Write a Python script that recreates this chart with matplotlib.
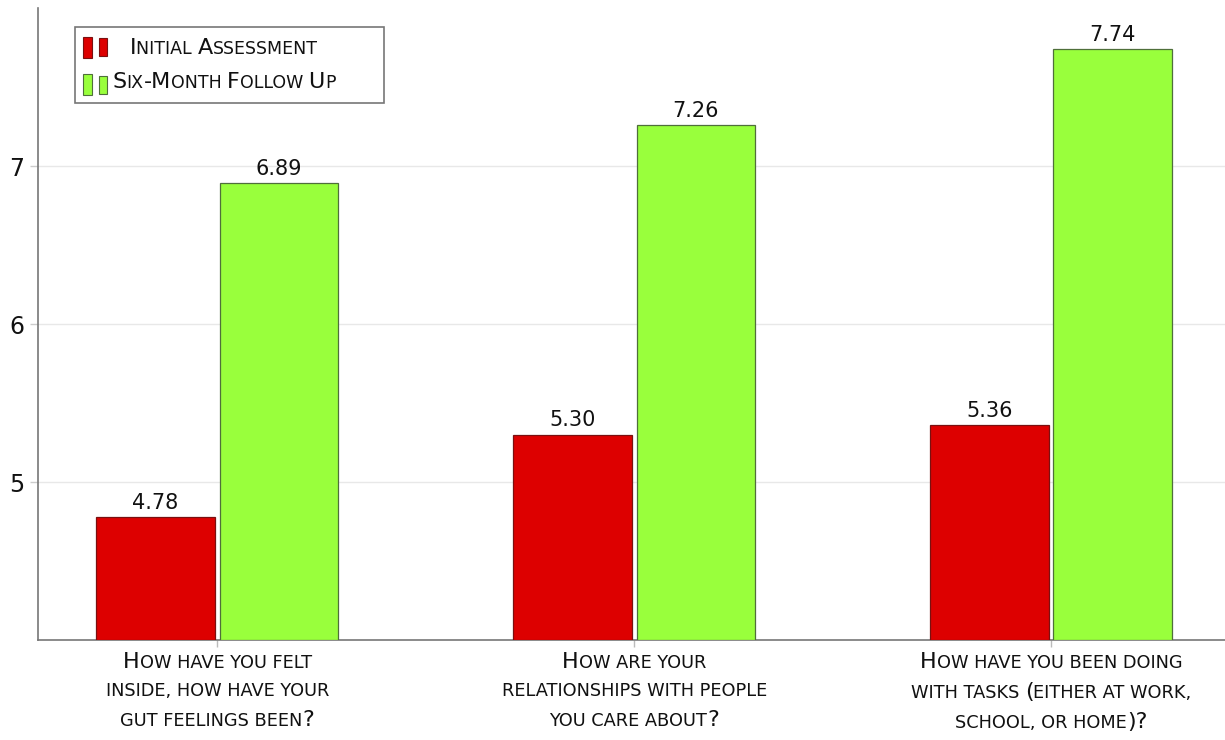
import matplotlib
matplotlib.use("Agg")
import matplotlib.pyplot as plt
from matplotlib.offsetbox import (TextArea, HPacker, VPacker, DrawingArea,
                                  AnnotationBbox, AnchoredOffsetbox)
from matplotlib.patches import Rectangle
import numpy as np

# ---- data ----
categories = [
    ["How have you felt", "inside, how have your", "gut feelings been?"],
    ["How are your", "relationships with people", "you care about?"],
    ["How have you been doing", "with tasks (either at work,", "school, or home)?"],
]
series_names = ["Initial Assessment", "Six-Month Follow Up"]
initial = [4.78, 5.30, 5.36]
follow_up = [6.89, 7.26, 7.74]
y_ticks = [5, 6, 7]

RED = "#dd0000"
RED_EDGE = "#7a1010"
GREEN = "#99ff3c"
GREEN_EDGE = "#4f6f3a"
FONT = "DejaVu Sans"

plt.rcParams["font.family"] = FONT

fig = plt.figure(figsize=(12.25, 7.4), dpi=100)
ax = fig.add_axes([38 / 1225, 1 - 640 / 740, 1 - 38 / 1225, (640 - 8) / 740])

x = np.arange(len(categories))
width = 0.285
offset = 0.148
base = 4.0

ax.bar(x - offset, np.array(initial) - base, width, bottom=base,
       color=RED, edgecolor=RED_EDGE, linewidth=0.9, zorder=3)
ax.bar(x + offset, np.array(follow_up) - base, width, bottom=base,
       color=GREEN, edgecolor=GREEN_EDGE, linewidth=0.9, zorder=3)

for xs, vals in ((x - offset, initial), (x + offset, follow_up)):
    for xi, v in zip(xs, vals):
        ax.annotate(f"{v:.2f}", (xi, v), xytext=(0, 3), textcoords="offset points",
                    ha="center", va="bottom", fontsize=15, color="#111111")

ax.set_ylim(4, 8)
ax.set_xlim(-0.43, 2.417)
ax.set_yticks(y_ticks)
ax.set_yticklabels([str(t) for t in y_ticks], fontsize=17, color="#111111")
ax.set_xticks(x)
ax.set_xticklabels([])
ax.tick_params(axis="y", length=6, width=1, color="#cccccc", pad=4)
ax.tick_params(axis="x", length=5, width=1, color="#bbbbbb")
ax.yaxis.grid(True, color="#e8e8e8", linewidth=1, zorder=0)
ax.set_axisbelow(True)
for s in ("top", "right"):
    ax.spines[s].set_visible(False)
for s in ("left", "bottom"):
    ax.spines[s].set_color("#777777")
    ax.spines[s].set_linewidth(1.2)


def small_caps(text, big, small, color="#111111"):
    """Build a small-caps line: capitals at full size, lowercase as smaller capitals."""
    runs = []
    cur, cur_small = "", None
    for ch in text:
        is_small = ch.islower() or ch in " ,"
        if cur_small is None or is_small == cur_small:
            cur += ch
            cur_small = is_small
        else:
            runs.append((cur, cur_small))
            cur, cur_small = ch, is_small
    if cur:
        runs.append((cur, cur_small))
    boxes = [TextArea(r.upper(), textprops=dict(fontsize=small if s else big,
                                                color=color, family=FONT))
             for r, s in runs]
    return HPacker(children=boxes, align="baseline", pad=0, sep=0)


for xi, lines in zip(x, categories):
    block = VPacker(children=[small_caps(l, 16, 12.8) for l in lines],
                    align="center", pad=0, sep=7)
    ab = AnnotationBbox(block, (xi, 0), xycoords=("data", "axes fraction"),
                        xybox=(0, -9), boxcoords="offset points",
                        box_alignment=(0.5, 1), frameon=False, pad=0,
                        annotation_clip=False)
    ax.add_artist(ab)


def handle(face, edge):
    da = DrawingArea(19, 16, 0, 0)
    da.add_artist(Rectangle((0, 0), 6, 15, facecolor=face, edgecolor=edge, linewidth=0.8))
    da.add_artist(Rectangle((11, 1), 6, 13, facecolor=face, edgecolor=edge, linewidth=0.8))
    return da


handles = VPacker(children=[handle(RED, RED_EDGE), handle(GREEN, GREEN_EDGE)],
                  align="left", pad=0, sep=11)
labels = VPacker(children=[small_caps(n, 16, 12.5) for n in series_names],
                 align="center", pad=0, sep=10)
right_gap = DrawingArea(27, 1, 0, 0)
legend_box = HPacker(children=[handles, labels, right_gap], align="center", pad=0, sep=2)
anchored = AnchoredOffsetbox(loc="upper left", child=legend_box, pad=0.6,
                             borderpad=0, frameon=True,
                             bbox_to_anchor=((75 - 38) / 1187, (640 - 27) / 632),
                             bbox_transform=ax.transAxes)
anchored.patch.set_boxstyle("square,pad=0")
anchored.patch.set_edgecolor("#777777")
anchored.patch.set_linewidth(1.2)
ax.add_artist(anchored)

fig.savefig("out.png", dpi=100)
